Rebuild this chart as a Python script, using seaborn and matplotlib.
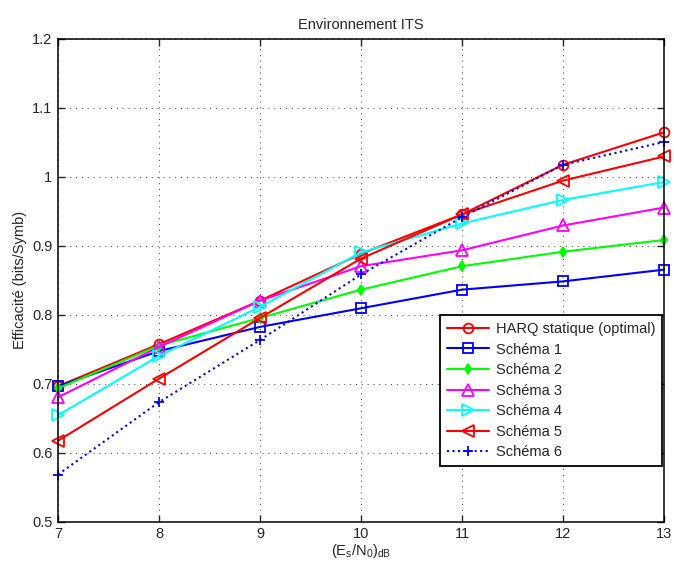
import numpy as np
import pandas as pd
import matplotlib
matplotlib.use("Agg")
import matplotlib.pyplot as plt
import seaborn as sns

# ------------------------------------------------------------------
# data
# ------------------------------------------------------------------
snr = [7, 8, 9, 10, 11, 12, 13]
harq = [0.696, 0.757, 0.820, 0.888, 0.945, 1.017, 1.064]
schema1 = [0.696, 0.747, 0.782, 0.809, 0.836, 0.848, 0.865]
schema2 = [0.693, 0.755, 0.795, 0.836, 0.870, 0.891, 0.908]
schema3 = [0.680, 0.753, 0.820, 0.870, 0.893, 0.929, 0.955]
schema4 = [0.654, 0.740, 0.811, 0.890, 0.932, 0.966, 0.992]
schema5 = [0.617, 0.707, 0.795, 0.881, 0.945, 0.994, 1.029]
schema6 = [0.568, 0.673, 0.763, 0.858, 0.941, 1.017, 1.050]

labels = ["HARQ statique (optimal)", "Schéma 1", "Schéma 2", "Schéma 3",
          "Schéma 4", "Schéma 5", "Schéma 6"]
series = [harq, schema1, schema2, schema3, schema4, schema5, schema6]

df = pd.DataFrame({
    "snr": snr * len(series),
    "eff": np.concatenate(series),
    "schema": np.repeat(labels, len(snr)),
})

# matlab-ish styles
styles = {
    "HARQ statique (optimal)": dict(color="#ff0000", marker="o", ls="-", ms=7, mfc="none"),
    "Schéma 1": dict(color="#0000ff", marker="s", ls="-", ms=7, mfc="none"),
    "Schéma 2": dict(color="#00ff00", marker="d", ls="-", ms=5, mfc="#00ff00"),
    "Schéma 3": dict(color="#ff00ff", marker="^", ls="-", ms=8, mfc="none"),
    "Schéma 4": dict(color="#00ffff", marker=">", ls="-", ms=8, mfc="none"),
    "Schéma 5": dict(color="#ff0000", marker="<", ls="-", ms=8, mfc="none"),
    "Schéma 6": dict(color="#0000ff", marker="+", ls=":", ms=7, mfc="none"),
}

sns.set_style("ticks")
plt.rcParams["font.family"] = ["Liberation Sans", "DejaVu Sans"]
plt.rcParams["mathtext.fontset"] = "custom"
plt.rcParams["mathtext.rm"] = "Liberation Sans"
plt.rcParams["mathtext.it"] = "Liberation Sans"

fig = plt.figure(figsize=(6.74, 5.63), dpi=100)
ax = fig.add_axes([58 / 674, 41.5 / 563, 606 / 674, 483 / 563])

for name in labels:
    st = styles[name]
    sub = df[df["schema"] == name]
    sns.lineplot(data=sub, x="snr", y="eff", ax=ax, label=name,
                 color=st["color"], marker=st["marker"], linestyle=st["ls"],
                 markersize=st["ms"], markerfacecolor=st["mfc"],
                 markeredgecolor=st["color"], markeredgewidth=1.3,
                 linewidth=1.5, legend=False, clip_on=False, zorder=3)

ax.set_xlim(7, 13)
ax.set_ylim(0.5, 1.2)
ax.set_xticks(snr)
ax.set_yticks(np.arange(0.5, 1.21, 0.1))
ax.set_yticklabels(["0.5", "0.6", "0.7", "0.8", "0.9", "1", "1.1", "1.2"])
ax.grid(True, color="#444444", linestyle=(0, (1, 5)), linewidth=0.7)
ax.tick_params(direction="in", top=True, right=True, labelsize=10.5,
               length=5, width=1, pad=4)
for sp in ax.spines.values():
    sp.set_linewidth(1.1)
    sp.set_color("black")
    sp.set_zorder(4)

ax.set_title("Environnement ITS", fontsize=10.5, pad=7)
ax.set_xlabel(r"(E$_\mathrm{s}$/N$_\mathrm{0}$)$_\mathrm{dB}$", fontsize=10.5,
              labelpad=1)
ax.set_ylabel("Efficacité (bits/Symb)", fontsize=10.5)

leg = ax.legend(loc="lower right", bbox_to_anchor=(0.997, 0.115), fontsize=10.5,
                fancybox=False, framealpha=1, edgecolor="black",
                handlelength=2.9, borderpad=0.45, labelspacing=0.45,
                handletextpad=0.5, borderaxespad=0)
leg.get_frame().set_linewidth(1.3)
leg.set_zorder(5)

fig.savefig("out.png", dpi=100)
